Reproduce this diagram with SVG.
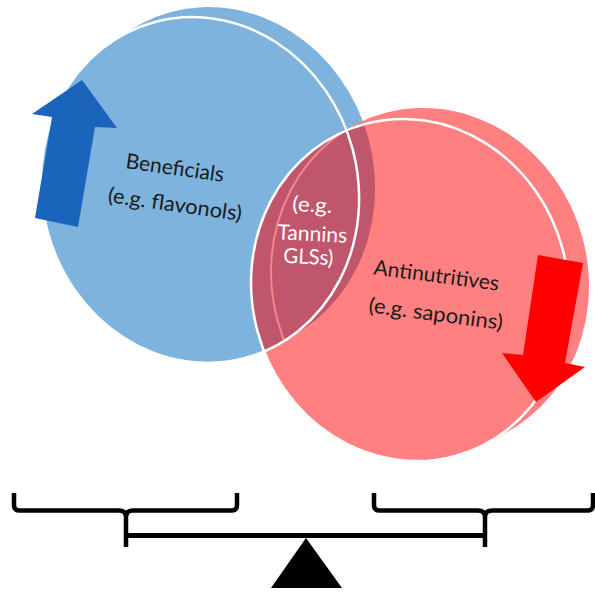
<svg xmlns="http://www.w3.org/2000/svg" xmlns:xlink="http://www.w3.org/1999/xlink" width="595" height="593" viewBox="0 0 595 593">
  <style>
    .blue { fill: #7EB3DD; }
    .red { fill: #FF8080; }
    .mauve { fill: #C0566B; }
    .rim { fill: none; stroke: #FFFFFF; stroke-width: 2.5; }
    .label { font-family: Lato, "Liberation Sans", sans-serif; font-size: 21px; fill: #1A1A1A; text-anchor: middle; }
    .label-w { font-family: Lato, "Liberation Sans", sans-serif; font-size: 21px; fill: #FFFFFF; text-anchor: middle; }
    .ink { fill: none; stroke: #000000; stroke-width: 4.5; }
  </style>
  <defs>
    <!-- each disc = a back face and a front face, slightly offset -->
    <ellipse id="blueBack" cx="216" cy="180" rx="158" ry="174" transform="rotate(-15 216 180)"/>
    <ellipse id="blueFront" cx="200" cy="190" rx="158" ry="174" transform="rotate(-15 200 190)"/>
    <ellipse id="redBack" cx="430" cy="279" rx="158" ry="172" transform="rotate(-15 430 279)"/>
    <ellipse id="redFront" cx="410" cy="290" rx="158" ry="172" transform="rotate(-15 410 290)"/>
    <clipPath id="cpRedFront"><use xlink:href="#redFront"/></clipPath>
    <clipPath id="cpBlue"><use xlink:href="#blueBack"/><use xlink:href="#blueFront"/></clipPath>
  </defs>

  <g id="beneficials">
    <use xlink:href="#blueBack" class="blue"/>
    <use xlink:href="#blueFront" class="blue"/>
  </g>

  <g id="antinutritives">
    <use xlink:href="#redBack" class="red"/>
    <use xlink:href="#redFront" class="red"/>
  </g>

  <g id="overlap">
    <g clip-path="url(#cpRedFront)">
      <use xlink:href="#blueBack" class="mauve"/>
      <use xlink:href="#blueFront" class="mauve"/>
    </g>
    <g clip-path="url(#cpBlue)">
      <g clip-path="url(#cpRedFront)">
        <use xlink:href="#redBack" fill="none" stroke="#F4868A" stroke-width="2"/>
      </g>
    </g>
  </g>

  <g id="rims">
    <use xlink:href="#blueFront" class="rim"/>
    <use xlink:href="#redFront" class="rim"/>
  </g>

  <g id="arrow-up">
    <polygon points="82,80 117,128 95,127 78,227 35,218 52,117 32,114" fill="#1A64BC"/>
  </g>
  <g id="arrow-down">
    <polygon points="538,255 583,263 565,363 585,367 536,402 502,353 523,355" fill="#FF0000"/>
  </g>

  <g id="labels">
    <text class="label" x="174" y="175" transform="rotate(8 174 175)" textLength="99" lengthAdjust="spacingAndGlyphs">Beneficials</text>
    <text class="label" x="174" y="211.5" transform="rotate(8 174 211.5)" textLength="135" lengthAdjust="spacingAndGlyphs">(e.g. flavonols)</text>
    <text class="label-w" x="312" y="212" transform="rotate(3 312 212)" textLength="40" lengthAdjust="spacingAndGlyphs">(e.g.</text>
    <text class="label-w" x="312" y="241" transform="rotate(3 312 241)" textLength="70" lengthAdjust="spacingAndGlyphs">Tannins</text>
    <text class="label-w" x="308" y="264" transform="rotate(3 308 264)" textLength="50" lengthAdjust="spacingAndGlyphs">GLSs)</text>
    <text class="label" x="435.5" y="282.5" transform="rotate(7.5 435.5 282.5)" textLength="126" lengthAdjust="spacingAndGlyphs">Antinutritives</text>
    <text class="label" x="435" y="321" transform="rotate(7.5 435 321)" textLength="135" lengthAdjust="spacingAndGlyphs">(e.g. saponins)</text>
  </g>

  <g id="balance">
    <path class="ink" d="M14,493 V505 Q14,510.5 19.5,510.5 H119 Q126,510.5 126,517 V547 M126,517 Q126,510.5 133,510.5 H231.5 Q237,510.5 237,505 V493"/>
    <path class="ink" d="M374,493 V505 Q374,510.5 379.5,510.5 H478 Q485,510.5 485,517 V547 M485,517 Q485,510.5 492,510.5 H587.5 Q593,510.5 593,505 V493"/>
    <line x1="126" y1="535.5" x2="485" y2="535.5" stroke="#000000" stroke-width="5"/>
    <polygon points="306,538 271,588 342,588" fill="#000000"/>
  </g>
</svg>
